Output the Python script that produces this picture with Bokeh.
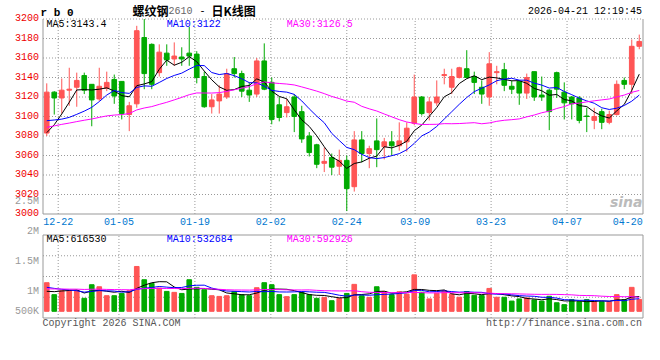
import numpy as np
from bokeh.plotting import figure
from bokeh.models import Range1d
from bokeh.core.properties import value
from bokeh.embed import file_html
from bokeh.resources import INLINE

# ---------------- data ----------------
symbol = "r b 0"
title_name = "螺纹钢"
title_code = "2610"
title_kind = "日K线图"
timestamp = "2026-04-21 12:19:45"

dates = ["12-18", "12-19", "12-22", "12-23", "12-24", "12-25", "12-26", "12-29", "12-30", "12-31",
         "01-05", "01-06", "01-07", "01-08", "01-09", "01-12", "01-13", "01-14", "01-15", "01-16",
         "01-19", "01-20", "01-21", "01-22", "01-23", "01-26", "01-27", "01-28", "01-29", "01-30",
         "02-02", "02-03", "02-04", "02-05", "02-06", "02-09", "02-10", "02-11", "02-12", "02-13",
         "02-24", "02-25", "02-26", "02-27", "03-02", "03-03", "03-04", "03-05", "03-06", "03-09",
         "03-10", "03-11", "03-12", "03-13", "03-16", "03-17", "03-18", "03-19", "03-20", "03-23",
         "03-24", "03-25", "03-26", "03-27", "03-30", "03-31", "04-01", "04-02", "04-03", "04-07",
         "04-08", "04-09", "04-10", "04-13", "04-14", "04-15", "04-16", "04-17", "04-20", "04-21"]

opens = [3083, 3125, 3119, 3127, 3130, 3142, 3133, 3118, 3129, 3138,
         3136, 3102, 3113, 3181, 3174, 3145, 3165, 3159, 3161, 3165,
         3164, 3141, 3110, 3116, 3120, 3149, 3144, 3127, 3123, 3157,
         3135, 3112, 3104, 3120, 3105, 3080, 3071, 3052, 3058, 3049,
         3055, 3028, 3076, 3062, 3075, 3069, 3074, 3070, 3074, 3093,
         3120, 3104, 3114, 3142, 3130, 3140, 3149, 3141, 3130, 3120,
         3145, 3148, 3131, 3136, 3124, 3146, 3122, 3127, 3145, 3125,
         3120, 3119, 3100.5, 3096, 3105, 3094, 3102, 3137, 3133, 3172]
highs = [3134, 3126, 3139, 3150, 3145, 3145, 3133, 3150, 3146, 3143,
         3136, 3115, 3193, 3200, 3175, 3174, 3174, 3176, 3171, 3192,
         3167, 3146, 3123, 3132, 3149, 3161, 3147, 3135, 3160, 3175,
         3140, 3120, 3118, 3123, 3111, 3084, 3072, 3068, 3062, 3066,
         3060, 3085, 3085, 3070, 3098, 3078, 3085, 3094, 3094, 3143,
         3121, 3120, 3137, 3149, 3149, 3151, 3168, 3146, 3137, 3166,
         3152, 3155, 3137, 3137, 3144, 3146, 3141, 3128, 3146, 3135,
         3121, 3121, 3109, 3109, 3108, 3106, 3137, 3140, 3179, 3184]
lows = [3080, 3102, 3103, 3111, 3110, 3123, 3090, 3116, 3126, 3113,
        3097, 3085, 3109, 3128, 3128, 3141, 3152, 3152, 3152, 3152,
        3134, 3109, 3103, 3103, 3118, 3140, 3120, 3115, 3120, 3127,
        3092, 3095, 3099, 3084, 3073, 3059, 3047, 3043, 3040, 3040,
        3003, 3023, 3053, 3047, 3048, 3056, 3060, 3065, 3064, 3091,
        3101, 3096, 3111, 3133, 3123, 3139, 3139, 3123, 3113, 3111,
        3133, 3126, 3123, 3112, 3118, 3116, 3116, 3086, 3119, 3097,
        3097, 3093, 3084, 3087, 3087, 3092, 3101, 3128, 3123, 3169]
closes = [3125, 3119, 3127, 3128, 3137, 3127, 3117, 3131, 3135, 3121,
          3103, 3111, 3188, 3144, 3133, 3166, 3158, 3162, 3159, 3162,
          3140, 3110, 3117, 3123, 3144, 3144, 3126, 3122, 3157, 3128,
          3097, 3099, 3110, 3100, 3077, 3063, 3051, 3054, 3048, 3055,
          3026, 3076, 3062, 3067, 3066, 3074, 3070, 3075, 3088, 3120,
          3103, 3115, 3120, 3143, 3141, 3150, 3140, 3135, 3123, 3154,
          3146, 3132, 3128, 3124, 3140, 3120, 3120, 3105, 3128, 3114,
          3113, 3096, 3100, 3100, 3094, 3102, 3133, 3133, 3172, 3177]
volumes = [1200000, 700000, 865000, 865000, 865000, 545000, 1115000, 1030000, 655000, 655000,
           750000, 865000, 1880000, 1325000, 1170000, 975000, 835000, 795000, 750000, 1325000,
           1005000, 905000, 655000, 625000, 655000, 835000, 700000, 655000, 990000, 1200000,
           1115000, 700000, 615000, 700000, 795000, 700000, 545000, 585000, 445000, 545000,
           750000, 1130000, 655000, 585000, 1030000, 820000, 700000, 820000, 725000, 1530000,
           800000, 520000, 760000, 870000, 720000, 590000, 830000, 670000, 670000, 960000,
           590000, 590000, 430000, 520000, 560000, 480000, 430000, 630000, 360000, 280000,
           490000, 405000, 490000, 405000, 405000, 400000, 700000, 490000, 1005000, 500000]

# sessions before the first visible candle (they only feed the moving averages)
prev_closes = [3075, 3080, 3088, 3092, 3085, 3078, 3082, 3090, 3095, 3088,
               3080, 3076, 3084, 3090, 3098, 3094, 3088, 3082, 3079, 3086,
               3112, 3118, 3110, 3106, 3094, 3078, 3072, 3068, 3074]
prev_volumes = [880000, 950000, 1020000, 870000, 910000, 840000, 990000, 930000, 860000, 900000,
                1010000, 880000, 850000, 920000, 960000, 870000, 890000, 930000, 880000, 900000,
                1150000, 1260000, 1120000, 1210000, 1130000, 780000, 720000, 760000, 740000]

price_ticks = [3000, 3020, 3040, 3060, 3080, 3100, 3120, 3140, 3160, 3180, 3200]
axis_dates = ["12-22", "01-05", "01-19", "02-02", "02-24", "03-09", "03-23", "04-07", "04-20"]
vol_labels = ["2.5M", "2M", "1.5M", "1M", "500K"]
vol_label_values = [2500000, 2000000, 1500000, 1000000, 500000]
price_legend = ["MA5:3143.4", "MA10:3122", "MA30:3126.5"]
vol_legend = ["MA5:616530", "MA10:532684", "MA30:592926"]
footer_left = "Copyright 2026 SINA.COM"
footer_right = "http://finance.sina.com.cn"
watermark = "sina"

# ---------------- style ----------------
MONO = "Liberation Mono"
CJK = "Noto Sans CJK SC"
GRID_C = "#999999"
UP_C = "#FF5555"
DN_C = "#00AA00"
MA_COLORS = ["black", "#0000FF", "#FF00FF"]
MA_N = [5, 10, 30]

# ---------------- layout, in pixels of the 660x360 page ----------------
CANVAS_W, CANVAS_H = 644, 340
PAGE_X0, PAGE_Y0 = 8, 0
FRAME_L, FRAME_R = 50.5, 650.5
MAIN_TOP, MAIN_BOT = 18.5, 213.5
VOL_TOP_PX, VOL_BOT_PX = 234.5, 317.5
VOL_TOP, VOL_BOT = 3200000, -280000
VLAB_ZERO_PX, VLAB_PX_PER_M = 351, 60

n = len(dates)


def lin(a_px, a_val, b_px, b_val):
    return lambda px: a_val + (px - a_px) * (b_val - a_val) / (b_px - a_px)


X = lin(FRAME_L, -0.5, FRAME_R, n - 0.5)          # candle slots
G = lin(FRAME_L, 0, FRAME_R, n - 1)               # date grid
P = lin(MAIN_TOP, price_ticks[-1], MAIN_BOT, price_ticks[0])
V = lin(VOL_TOP_PX, VOL_TOP, VOL_BOT_PX, VOL_BOT)
L = lin(VLAB_ZERO_PX, 0, VLAB_ZERO_PX - VLAB_PX_PER_M, 1e6)

x0p, x1p = PAGE_X0, PAGE_X0 + CANVAS_W
y0p, y1p = PAGE_Y0, PAGE_Y0 + CANVAS_H


def sma(prev, vals, k):
    allv = np.array(list(prev) + list(vals), dtype=float)
    off = len(prev)
    return [allv[off + i - k + 1: off + i + 1].mean() for i in range(len(vals))]


o = np.array(opens, float)
c = np.array(closes, float)
up = c >= o
data = dict(x=list(range(n)), h=highs, l=lows,
            top=list(np.maximum(o, c)), bot=list(np.minimum(o, c)),
            color=list(np.where(up, UP_C, DN_C)), vol=volumes)
for k in MA_N:
    data[f"ma{k}"] = sma(prev_closes, closes, k)
    data[f"vma{k}"] = sma(prev_volumes, volumes, k)

p = figure(width=CANVAS_W, height=CANVAS_H,
           x_range=Range1d(X(x0p), X(x1p)), y_range=Range1d(P(y1p), P(y0p)),
           x_axis_type=None, y_axis_type=None, toolbar_location=None, output_backend="svg",
           min_border_left=0, min_border_right=0, min_border_top=0, min_border_bottom=0,
           outline_line_color=None, background_fill_color="white", border_fill_color="white")
p.extra_x_ranges = {"grid": Range1d(G(x0p), G(x1p))}
p.extra_y_ranges = {"vol": Range1d(V(y1p), V(y0p)), "vlab": Range1d(L(y1p), L(y0p))}

xl, xr = -0.5, n - 0.5
tick_idx = [dates.index(d) for d in axis_dates]
label_pos = [min(t, n - 3) for t in tick_idx]   # last label kept inside the frame
grid_pos = tick_idx[:-1]
vol_grid = list(np.linspace(VOL_BOT, VOL_TOP, 5)[1:4])
dot = dict(line_color=GRID_C, line_width=1, line_dash="1 2")

# grids
p.segment(x0=xl, x1=xr, y0=price_ticks[1:], y1=price_ticks[1:], **dot)
p.segment(x0=grid_pos, x1=grid_pos, y0=price_ticks[0], y1=price_ticks[-1], x_range_name="grid", **dot)
p.segment(x0=xl, x1=xr, y0=vol_grid, y1=vol_grid, y_range_name="vol", **dot)
p.segment(x0=grid_pos, x1=grid_pos, y0=VOL_BOT, y1=VOL_TOP, x_range_name="grid", y_range_name="vol", **dot)

# panel borders
p.line(x=[xl, xl, xr, xr], y=[price_ticks[-1], price_ticks[0], price_ticks[0], price_ticks[-1]],
       line_color=GRID_C, line_width=1)
p.line(x=[xl, xl, xr, xr, xl], y=[VOL_TOP, VOL_BOT, VOL_BOT, VOL_TOP, VOL_TOP],
       line_color=GRID_C, line_width=1, y_range_name="vol")

# candles + moving averages
p.segment(x0="x", y0="l", x1="x", y1="h", line_color="color", line_width=1, source=data)
p.vbar(x="x", width=0.62, top="top", bottom="bot", fill_color="color", line_color="color",
       line_width=1, source=data)
for k, col in zip(MA_N, MA_COLORS):
    p.line(x="x", y=f"ma{k}", line_color=col, line_width=1, source=data)

# volume
p.vbar(x="x", width=0.62, top="vol", bottom=0, fill_color="color", line_color="color",
       line_width=1, source=data, y_range_name="vol")
for k, col in zip(MA_N, MA_COLORS):
    p.line(x="x", y=f"vma{k}", line_color=col, line_width=1, source=data, y_range_name="vol")


def txt(x, y, t, size="10px", color="black", font=MONO, align="left", baseline="middle",
        style="normal", **kw):
    p.text(x=x, y=y, text=t, text_font=value(font), text_font_size=size, text_color=color,
           text_align=align, text_baseline=baseline, text_font_style=style, **kw)


# price scale (left), date scale (between panels)
txt(X(46.5), price_ticks, [str(t) for t in price_ticks], color="#EE0000", align="right",
    y_offset=-1.5)
txt(label_pos, P(220.5), axis_dates, color="#0078D0", align="center", x_range_name="grid")

# volume scale labels; the lowest one rests on the bar baseline
base_px = VOL_TOP_PX + (VOL_TOP - 0) / (VOL_TOP - VOL_BOT) * (VOL_BOT_PX - VOL_TOP_PX)
txt(X(46.5), [max(v, L(base_px)) for v in vol_label_values], vol_labels, color="#999999",
    align="right", y_range_name="vlab")

# header
txt(X(48), P(12), [symbol], size="11px", style="bold")
txt(X(140), P(9.5), [title_name], size="12px", font=CJK, style="bold")
txt(X(176), P(10), [title_code], color="#666666")
txt(X(207), P(10), ["-"])
txt(X(219), P(9.5), [title_kind], size="12px", font=CJK, style="bold")
txt(X(649.5), P(11.3), [timestamp], align="right")

# legends
leg_x = [X(54), X(174.3), X(294.3)]
txt(leg_x, P(24), price_legend, color=MA_COLORS)
txt(leg_x, V(238.5), vol_legend, color=MA_COLORS, y_range_name="vol")

# watermark + footer
txt(X(650), P(201), [watermark], size="14px", color="#BBBBBB", font="DejaVu Sans",
    align="right", style="bold italic")
txt(X(50), V(322.5), [footer_left], color="#555555", y_range_name="vol")
txt(X(649.5), V(322.5), [footer_right], color="#555555", align="right", y_range_name="vol")

open("out.html", "w").write(file_html(p, INLINE))
